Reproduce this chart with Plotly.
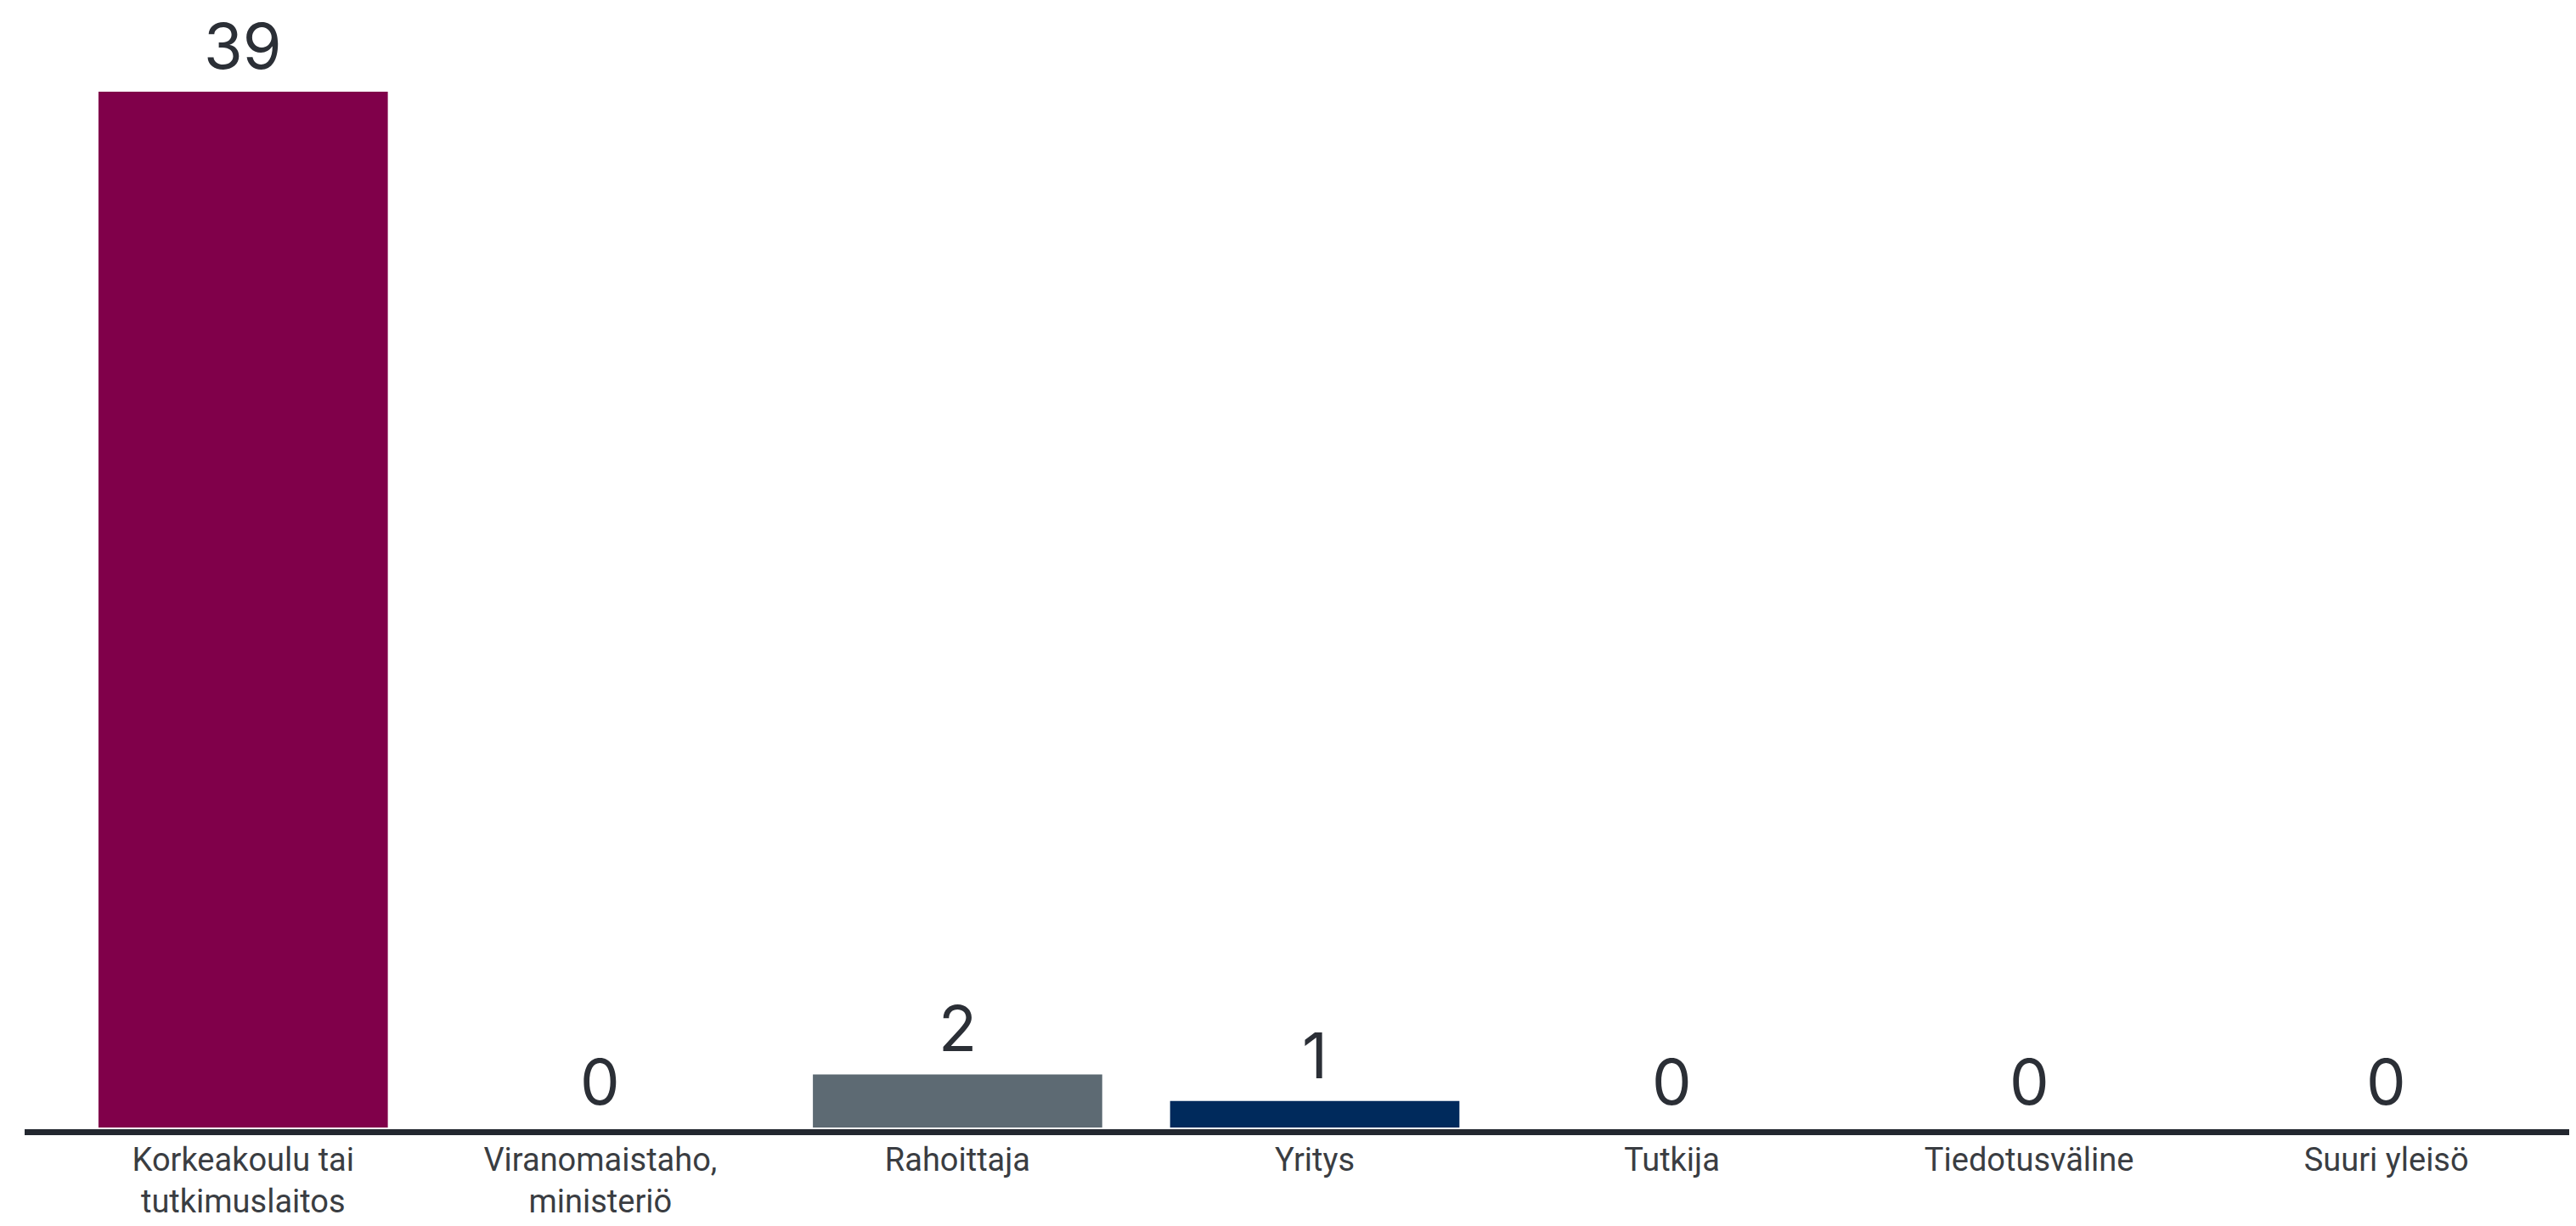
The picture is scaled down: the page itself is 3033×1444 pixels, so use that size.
import plotly.graph_objects as go

categories = ["Korkeakoulu tai<br>tutkimuslaitos", "Viranomaistaho,<br>ministeriö", "Rahoittaja",
              "Yritys", "Tutkija", "Tiedotusväline", "Suuri yleisö"]
values = [39, 0, 2, 1, 0, 0, 0]
colors = ["#80004a", "#80004a", "#5d6a73", "#002a5c", "#80004a", "#80004a", "#80004a"]

W, H = 3033, 1444
ml, mr, mt, mb = 68, 21, 100, 124
pw, ph = W - ml - mr, H - mt - mb

fig = go.Figure(go.Bar(
    x=categories, y=values,
    marker=dict(color=colors, line=dict(width=0)),
    cliponaxis=False,
    hoverinfo="x+y",
))

for c, v in zip(categories, values):
    fig.add_annotation(x=c, y=v, xref="x", yref="y", text=str(v), showarrow=False,
                       yanchor="bottom", yshift=7,
                       font=dict(family="Inter", size=74, color="#2b2f36"))

fig.update_layout(
    width=W, height=H,
    margin=dict(l=ml, r=mr, t=mt, b=mb, pad=0, autoexpand=False),
    paper_bgcolor="white", plot_bgcolor="white",
    bargap=0.19,
    showlegend=False,
    xaxis=dict(showline=False, showgrid=False, zeroline=False, ticks="",
               automargin=False, ticklabelstandoff=12,
               tickfont=dict(family="Roboto", size=38, color="#3a3d42")),
    yaxis=dict(range=[0, 39], visible=False, showgrid=False, zeroline=False,
               automargin=False),
    shapes=[dict(type="line", xref="paper", yref="paper",
                 x0=-(ml - 21) / pw, x1=1.02,
                 y0=-5.5 / ph, y1=-5.5 / ph,
                 line=dict(color="#23272f", width=7))],
)

fig.write_html("out.html")
